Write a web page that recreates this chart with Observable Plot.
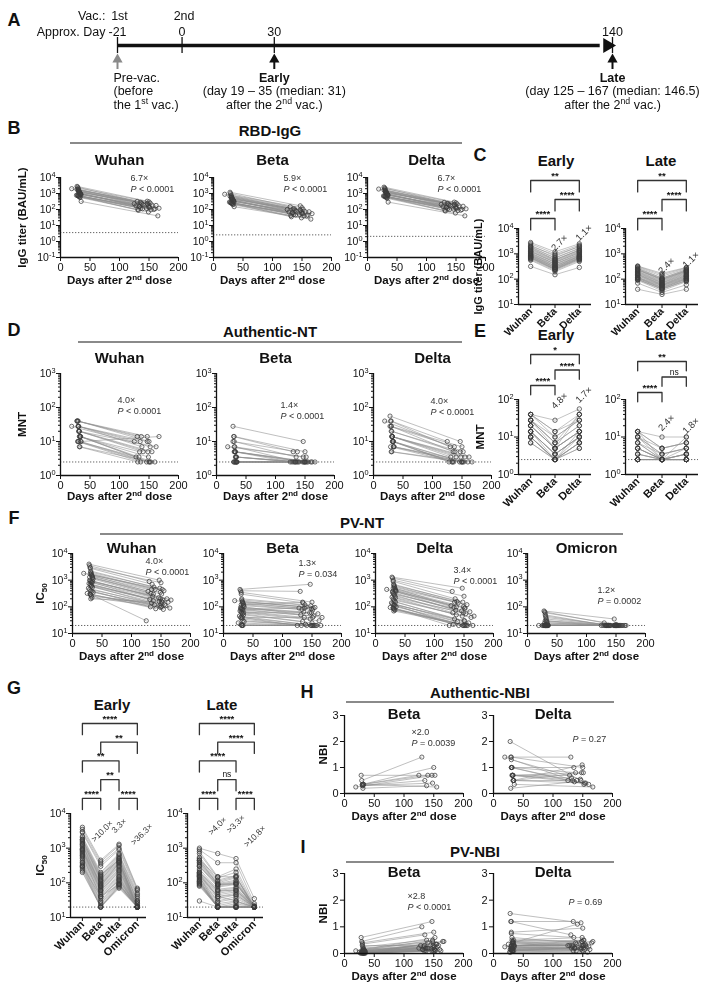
<!DOCTYPE html>
<html><head><meta charset="utf-8">
<script src="https://cdn.jsdelivr.net/npm/d3@7"></script>
<script src="https://cdn.jsdelivr.net/npm/@observablehq/plot@0.6"></script>
<style>
body{margin:0;background:#fff;}
#fig{position:relative;width:712px;height:995px;overflow:hidden;font-family:"Liberation Sans",Arial,sans-serif;color:#111;background:#fff;}
.abs{position:absolute;filter:grayscale(1);}
.letter{position:absolute;font-weight:bold;font-size:18px;transform:translate(-50%,-50%);}
.ghead{position:absolute;font-weight:bold;font-size:15px;transform:translate(-50%,-50%);white-space:nowrap;}
.gline{position:absolute;height:2px;background:#8a8a8a;}
</style></head><body><div id="fig"></div>
<script>
// ---------------- DATA ----------------
// Panel A timeline
const tlDays = [-21, 0, 30, 140];
const tlDayLabels = ["-21", "0", "30", "140"];
const vacDays = [-21, 0];
const vacLabels = ["1st", "2nd"];
const sampleDays = [-21, 30, 140];
const sampleNames = ["Pre-vac.", "Early", "Late"];
const sampleNotes = ["(before\nthe 1^{st} vac.)", "(day 19 – 35 (median: 31)\nafter the 2^{nd} vac.)", "(day 125 – 167 (median: 146.5)\nafter the 2^{nd} vac.)"];

// sampling days per subject
const earlyDay = [30,28,29,30,30,19,31,31,32,32,33,33,34,34,35,29,30,31,32,33,28,30,31,32,34,27,29,31,33,35,25,30,31,32,33,31,30,29,34,32];
const lateDay = [125,147,130,150,135,152,138,148,140,155,128,149,133,151,167,136,146,160,131,153,137,147,162,134,150,139,158,132,149,165,141,154,148,156,151,152,134,137,149,151];

// RBD-IgG (BAU/mL)
const igE_W = [1500,2800,2500,2200,1900,2000,1600,1400,1300,1200,1100,1000,950,900,850,800,750,700,650,600,1800,1700,1250,1050,880,780,720,680,560,320];
const igE_B = [550,1200,1000,800,700,900,600,520,480,450,400,380,350,330,300,290,270,250,240,220,680,580,460,400,330,290,260,240,200,150];
const igE_D = [1400,2500,2200,2000,1700,1900,1350,1250,1200,1100,1000,900,850,800,780,720,680,650,600,550,1600,1450,1100,950,800,700,650,600,500,290];
const igL_W = [230,330,320,300,280,250,230,210,200,190,170,160,150,140,120,120,115,110,100,95,260,240,180,155,135,110,100,90,70,40];
const igL_B = [100,170,150,130,110,100,90,85,80,75,70,65,60,58,55,50,48,45,42,40,110,95,72,62,55,45,40,35,30,25];
const igL_D = [210,290,280,260,240,220,200,190,180,170,150,140,130,125,110,110,105,100,90,85,230,210,160,140,120,100,90,80,60,40];

// Authentic-NT (MNT)
const mnE_W = [28,40,40,40,28,28,28,20,20,20,14,14,14,14,10,10,10,10,7,7,40,28,20,14,10];
const mnE_B = [5,28,14,14,10,7,7,5,5,5,3.5,3.5,3.5,2.5,2.5,2.5,2.5,2.5,2.5,2.5,10,7,5,3.5,2.5];
const mnE_D = [40,56,40,28,28,40,20,14,14,14,10,10,10,7,7,7,5,5,14,10,28,20,14,10,7];
const mnL_W = [10,14,14,10,10,7,7,5,5,5,3.5,3.5,3.5,2.5,14,2.5,2.5,2.5,2.5,2.5,14,10,7,5,2.5];
const mnL_B = [2.5,10,5,5,3.5,3.5,2.5,2.5,2.5,2.5,2.5,2.5,2.5,2.5,2.5,2.5,2.5,2.5,2.5,2.5,5,3.5,2.5,2.5,2.5];
const mnL_D = [10,10,7,7,5,5,5,3.5,3.5,3.5,2.5,2.5,2.5,2.5,2.5,2.5,2.5,2.5,3.5,2.5,7,5,3.5,2.5,2.5];

// PV-NT (IC50)
const pvE_W = [300,4000,3500,3000,2800,1800,2200,2000,1800,1600,1500,1400,1300,1200,1100,1000,950,900,850,800,750,700,650,600,550,500,450,400,380,350,320,300,280,250,220,200,1700,1300,900,600];
const pvE_B = [40,450,400,350,300,170,200,180,160,150,140,130,120,110,100,95,90,85,80,75,70,65,60,55,50,45,40,35,30,28,25,22,20,20,20,20,120,80,60,40];
const pvE_D = [90,1300,1200,1000,900,450,700,650,600,550,500,450,420,400,380,350,320,300,280,250,230,200,180,160,150,140,130,120,110,100,95,90,85,80,75,70,500,380,220,120];
const pvE_O = [20,70,65,60,50,20,45,40,35,30,28,25,22,20,20,20,20,20,20,20,20,20,20,20,20,20,20,20,20,20,20,20,20,20,20,20,30,25,20,20];
const pvL_W = [30,1000,900,800,700,450,550,500,450,400,380,350,320,300,180,250,220,200,190,180,170,160,150,140,130,120,110,100,95,90,85,80,110,120,100,150,450,300,200,160];
const pvL_B = [20,700,380,150,140,90,120,110,100,95,90,85,80,75,40,65,60,55,50,45,40,35,30,28,25,22,20,20,20,20,20,20,20,20,20,20,150,90,60,40];
const pvL_D = [20,500,380,250,200,90,160,150,140,120,110,100,95,90,45,75,70,65,60,55,50,45,40,35,30,28,25,22,20,20,20,20,20,20,20,20,150,100,60,30];
const pvL_O = [20,35,25,22,20,20,20,20,20,20,20,20,20,20,20,20,20,20,20,20,20,20,20,20,20,20,20,20,20,20,20,20,20,20,20,20,20,20,20,20];

// Authentic-NBI
const anE_B = [0.35,0.7,0.5,0.35,0.3,0.25,0.2,0.3,0.35,0.35];
const anL_B = [0.7,0.7,1.4,1.0,0.5,0.7,0.3,0.4,0.7,0.25];
const anE_D = [1.0,2.0,1.4,1.4,1.0,1.4,1.0,0.7,0.7,0.7,0.7,0.5,0.5,0.5,0.35,0.2,1.3,1.0,0.7,0.5];
const anL_D = [0.5,0.5,1.4,1.0,1.0,0.35,0.8,0.8,0.5,0.4,0.7,1.1,0.5,0.8,0.25,0.45,0.55,0.35,0.6,0.4];

// PV-NBI
const pnE_B = [0.05,0.6,0.45,0.4,0.35,0.1,0.25,0.2,0.18,0.15,0.12,0.1,0.1,0.08,0.07,0.06,0.05,0.05,0.04,0.04,0.03,0.03,0.02,0.02,0.02,0.01,0.01,0.01,0.01,0.01,0.05,0.08,0.12,0.15,0.06,0.03,0.3,0.1,0.05,0.02];
const pnL_B = [0.2,1.2,1.0,0.8,0.7,0.6,0.5,0.45,0.4,0.35,0.3,0.3,0.25,0.25,0.45,0.2,0.18,0.15,0.15,0.12,0.1,0.1,0.1,0.1,0.08,0.2,0.3,0.15,0.4,0.45,0.2,0.35,0.5,0.25,0.15,0.1,0.3,0.2,0.22,0.15];
const pnE_D = [0.3,1.5,1.2,0.8,0.75,0.25,0.6,0.5,0.45,0.4,0.4,0.35,0.3,0.3,0.3,0.25,0.25,0.2,0.2,0.2,0.15,0.15,0.1,0.1,0.1,0.05,0.05,0.3,0.4,0.25,0.35,0.2,0.15,0.1,0.45,0.3,1.2,0.15,0.5,0.1];
const pnL_D = [0.3,1.15,0.7,0.95,0.6,0.5,0.4,0.45,0.35,0.3,0.3,0.3,0.25,0.3,0.45,0.2,0.2,0.25,0.2,0.15,0.2,0.15,0.15,0.1,0.1,0.1,0.05,0.3,0.45,0.4,1.1,0.35,0.2,0.25,0.5,0.3,1.2,0.2,0.6,0.2];

// categories, annotations, comparisons
const cats3 = ["Wuhan", "Beta", "Delta"];
const cats4 = ["Wuhan", "Beta", "Delta", "Omicron"];
const dayTicks = [0, 50, 100, 150, 200];
const nbiTicks = [0, 1, 2, 3];
const foldC_E = ["", "2.7×", "1.1×"];
const foldC_L = ["", "2.4×", "1.1×"];
const foldE_E = ["", "4.8×", "1.7×"];
const foldE_L = ["", "2.4×", "1.8×"];
const foldG_E = ["", ">10.0×", "3.3×", ">36.3×"];
const foldG_L = ["", ">4.0×", ">3.3×", ">10.8×"];
const cmpC_E = [[["Wuhan","Delta","**"]], [["Beta","Delta","****"]], [["Wuhan","Beta","****"]]];
const cmpC_L = [[["Wuhan","Delta","**"]], [["Beta","Delta","****"]], [["Wuhan","Beta","****"]]];
const cmpE_E = [[["Wuhan","Delta","*"]], [["Beta","Delta","****"]], [["Wuhan","Beta","****"]]];
const cmpE_L = [[["Wuhan","Delta","**"]], [["Beta","Delta","ns"]], [["Wuhan","Beta","****"]]];
const cmpG_E = [[["Wuhan","Omicron","****"]], [["Beta","Omicron","**"]], [["Wuhan","Delta","**"]], [["Beta","Delta","**"]], [["Wuhan","Beta","****"],["Delta","Omicron","****"]]];
const cmpG_L = [[["Wuhan","Omicron","****"]], [["Beta","Omicron","****"]], [["Wuhan","Delta","****"]], [["Beta","Delta","ns"]], [["Wuhan","Beta","****"],["Delta","Omicron","****"]]];

// ---------------- HELPERS ----------------
const FONT = '"Liberation Sans", Arial, sans-serif';
const NARROW = '"Liberation Sans Narrow", "Arial Narrow", "Liberation Sans", Arial, sans-serif';
const SVGNS = "http://www.w3.org/2000/svg";
const fig = document.getElementById("fig");
const baseStyle = {background:"transparent", overflow:"visible", fontFamily:FONT, fontSize:"10.5px", color:"#111", maxWidth:"none"};

function richify(root){
  const els = [...root.querySelectorAll("text, tspan")].filter(e => e.children.length === 0 && /[\^_~]\{/.test(e.textContent));
  for (const el of els){
    const s = el.textContent; el.textContent = "";
    const re = /([\^_~])\{([^}]*)\}/g; let last = 0, m; const parts = [];
    while ((m = re.exec(s))){ if (m.index > last) parts.push([s.slice(last, m.index), ""]); parts.push([m[2], m[1]]); last = re.lastIndex; }
    if (last < s.length) parts.push([s.slice(last), ""]);
    let shift = 0;
    for (const [t, k] of parts){
      const ts = document.createElementNS(SVGNS, "tspan"); ts.textContent = t;
      let target = 0, own = 1;
      if (k === "^"){ target = -0.4; own = 0.7; ts.setAttribute("font-size", "70%"); }
      else if (k === "_"){ target = 0.25; own = 0.7; ts.setAttribute("font-size", "70%"); }
      else if (k === "~"){ ts.setAttribute("font-style", "italic"); }
      const d = target - shift;
      if (d) ts.setAttribute("dy", (d / own).toFixed(3) + "em");
      shift = target;
      el.appendChild(ts);
    }
  }
}
function place(node, left, top){
  richify(node);
  const d = document.createElement("div"); d.className = "abs";
  d.style.left = left + "px"; d.style.top = top + "px";
  d.appendChild(node); fig.appendChild(d);
}
function html(cls, text, x, y){
  const d = document.createElement("div"); d.className = cls;
  d.style.left = x + "px"; d.style.top = y + "px"; d.innerHTML = text; fig.appendChild(d);
}
function hline(x1, x2, y){
  const d = document.createElement("div"); d.className = "gline";
  d.style.left = x1 + "px"; d.style.width = (x2 - x1) + "px"; d.style.top = (y - 1) + "px"; fig.appendChild(d);
}
function logTicks(lo, hi){
  const maj = [], min = [];
  for (let e = Math.round(Math.log10(lo)); e <= Math.round(Math.log10(hi)); e++){
    maj.push(Math.pow(10, e));
    if (Math.pow(10, e) < hi) for (let k = 2; k < 10; k++) min.push(k * Math.pow(10, e));
  }
  return {maj, min};
}
const fmtPow = d => "10^{" + Math.round(Math.log10(d)) + "}";

function yAxisMarks(o){
  if (o.log === false) return [Plot.axisY({ticks:o.yTicks, tickSize:4, tickPadding:2, tickFormat:d => String(d), fontSize:11, label:null})];
  const t = logTicks(o.yDomain[0], o.yDomain[1]);
  return [
    Plot.axisY({ticks:t.maj, tickSize:4, tickPadding:1, tickFormat:fmtPow, fontSize:10.5, label:null}),
    Plot.axisY({ticks:t.min, tickSize:2, tickFormat:() => "", label:null})
  ];
}

const ML = 62, MT = 40, MR = 34, MB = 40;
function timeCourse(o){
  const rows = [];
  o.early.forEach((v, i) => { rows.push({id:i, day:earlyDay[i], v}); rows.push({id:i, day:lateDay[i], v:o.late[i]}); });
  const marks = [];
  if (o.lod) marks.push(Plot.ruleY([o.lod], {stroke:"#666", strokeWidth:1, strokeDasharray:"1.3,1.7"}));
  marks.push(Plot.line(rows, {x:"day", y:"v", z:"id", stroke:"#8c8c8c", strokeWidth:0.75, strokeOpacity:0.75}));
  marks.push(Plot.dot(rows, {x:"day", y:"v", r:2.1, stroke:"#3c3c3c", strokeWidth:0.75, fill:"none"}));
  marks.push(Plot.ruleX([0], {stroke:"#111", strokeWidth:1.3}));
  marks.push(Plot.ruleY([o.yDomain[0]], {stroke:"#111", strokeWidth:1.3}));
  marks.push(Plot.axisX({ticks:dayTicks, tickSize:4, tickPadding:2, fontSize:11, label:null}));
  marks.push(...yAxisMarks(o));
  marks.push(Plot.text([o.title], {frameAnchor:"top", lineAnchor:"middle", dy:o.titleDy, fontWeight:"bold", fontSize:15}));
  marks.push(Plot.text(["Days after 2^{nd} dose"], {frameAnchor:"bottom", lineAnchor:"middle", dy:o.xlabDy ?? 23, fontWeight:"bold", fontSize:11.5}));
  if (o.ylabel) marks.push(Plot.text([o.ylabel], {frameAnchor:"left", textAnchor:"middle", lineAnchor:"middle", rotate:-90, dx:o.ylabelDx, fontWeight:"bold", fontSize:11.5}));
  if (o.annot) marks.push(Plot.text([o.annot], {frameAnchor:"top-left", textAnchor:"start", lineAnchor:"top", dx:o.adx, dy:o.ady, fontSize:9, fill:"#333", lineHeight:1.2}));
  const p = Plot.plot({
    width:o.fw + ML + MR, height:o.fh + MT + MB, marginLeft:ML, marginTop:MT, marginRight:MR, marginBottom:MB,
    style:baseStyle,
    x:{domain:[0, 200]},
    y:o.log === false ? {domain:o.yDomain} : {type:"log", domain:o.yDomain},
    marks
  });
  place(p, o.fx - ML, o.fy - MT);
}

const CML = 60, CMT = 10, CMR = 40, CMB = 70;
function catPlot(o){
  const rows = [];
  o.series[0].forEach((_, i) => o.series.forEach((s, j) => rows.push({id:i, j, v:s[i]})));
  const marks = [];
  if (o.lod) marks.push(Plot.ruleY([o.lod], {stroke:"#666", strokeWidth:1, strokeDasharray:"1.3,1.7"}));
  marks.push(Plot.line(rows, {x:"j", y:"v", z:"id", stroke:"#8c8c8c", strokeWidth:0.75, strokeOpacity:0.7}));
  marks.push(Plot.dot(rows, {x:"j", y:"v", r:2.2, stroke:"#3c3c3c", strokeWidth:0.75, fill:"none"}));
  marks.push(Plot.ruleX([o.xDomain[0]], {stroke:"#111", strokeWidth:1.3}));
  marks.push(Plot.ruleY([o.yDomain[0]], {stroke:"#111", strokeWidth:1.3}));
  marks.push(Plot.axisX({ticks:o.cats.map((c, i) => i), tickFormat:i => o.cats[i], tickRotate:-45, tickSize:4, tickPadding:1, fontSize:o.catFont ?? 11, fontWeight:"bold", label:null}));
  marks.push(...yAxisMarks(o));
  o.folds.forEach((t, j) => { if (t) marks.push(Plot.text([t], {x:j, frameAnchor:"top", dy:o.foldDy[j], dx:o.foldDx ? o.foldDx[j] : 0, rotate:-45, textAnchor:"start", lineAnchor:"bottom", fontSize:o.foldFont ?? 9.5, fill:"#333"})); });
  if (o.ylabel) marks.push(Plot.text([o.ylabel], {frameAnchor:"left", textAnchor:"middle", lineAnchor:"middle", rotate:-90, dx:o.ylabelDx, fontWeight:"bold", fontSize:o.ylabFont ?? 11.5}));
  const p = Plot.plot({
    width:o.fw + CML + CMR, height:o.fh + CMT + CMB, marginLeft:CML, marginTop:CMT, marginRight:CMR, marginBottom:CMB,
    style:baseStyle,
    x:{domain:o.xDomain},
    y:{type:"log", domain:o.yDomain},
    marks
  });
  place(p, o.fx - CML, o.fy - CMT);
}

function bracketPlot(o){
  const n = o.rows.length, BL = 10;
  const top = o.bottom - (n - 1) * o.spacing - 16;
  const h = o.bottom + o.spacing * 0.8 - top;
  const idx = c => o.cats.indexOf(c);
  const segs = [], labs = [];
  o.rows.forEach((row, r) => {
    const lvl = n - 1 - r;
    row.forEach(([a, b, t], k) => {
      const key = r + "-" + k, ia = idx(a), ib = idx(b);
      segs.push({key, x:ia, y:lvl - 0.6}, {key, x:ia, y:lvl}, {key, x:ib, y:lvl}, {key, x:ib, y:lvl - 0.6});
      labs.push({x:(ia + ib) / 2, y:lvl, t});
    });
  });
  const p = Plot.plot({
    width:o.fw + 2 * BL, height:h, marginLeft:BL, marginRight:BL, marginTop:0, marginBottom:0,
    style:baseStyle,
    x:{domain:o.xDomain, range:[BL, BL + o.fw], axis:null},
    y:{domain:[0, n - 1], range:[o.bottom - top, o.bottom - top - (n - 1) * o.spacing], axis:null},
    marks:[
      Plot.line(segs, {x:"x", y:"y", z:"key", stroke:"#333", strokeWidth:1.3}),
      Plot.text(labs.filter(d => d.t !== "ns"), {x:"x", y:"y", text:"t", dy:-4.5, fontSize:9.5, fontWeight:"bold"}),
      Plot.text(labs.filter(d => d.t === "ns"), {x:"x", y:"y", text:"t", dy:-5, fontSize:8.5})
    ]
  });
  place(p, o.fx - BL, top);
}

// ---------------- PANEL A ----------------
(function(){
  const p = Plot.plot({
    width:712, height:112, margin:0, style:{...baseStyle, fontFamily:NARROW, fontSize:"12.5px"},
    x:{domain:[-21, 140], range:[117, 612], axis:null},
    y:{domain:[0, 112], range:[0, 112], axis:null},
    marks:[
      Plot.ruleY([45], {x1:-21, x2:136, stroke:"#111", strokeWidth:3.6}),
      Plot.dot([140], {x:d => d, y:45, dx:-5, symbol:"triangle", rotate:90, r:5.5, fill:"#111", stroke:"none"}),
      Plot.ruleX(tlDays, {x:d => d, y1:37, y2:53, stroke:"#111", strokeWidth:1.3}),
      Plot.ruleX(sampleDays.slice(0, 1), {x:d => d, y1:59, y2:69, stroke:"#8a8a8a", strokeWidth:2}),
      Plot.dot(sampleDays.slice(0, 1), {x:d => d, y:59, symbol:"triangle", r:3.8, fill:"#8a8a8a", stroke:"none"}),
      Plot.ruleX(sampleDays.slice(1), {x:d => d, y1:59, y2:69, stroke:"#111", strokeWidth:2}),
      Plot.dot(sampleDays.slice(1), {x:d => d, y:59, symbol:"triangle", r:3.8, fill:"#111", stroke:"none"}),
      Plot.text(["Vac.:"], {x:-21, y:15, dx:-12, textAnchor:"end"}),
      Plot.text(vacLabels, {x:(d, i) => vacDays[i], y:15, dx:2}),
      Plot.text(["Approx. Day"], {x:-21, y:31, dx:-12, textAnchor:"end"}),
      Plot.text(tlDayLabels, {x:(d, i) => tlDays[i], y:31}),
      Plot.text(sampleNames.slice(0, 1), {x:sampleDays[0], y:77, dx:-4, textAnchor:"start"}),
      Plot.text(sampleNotes.slice(0, 1), {x:sampleDays[0], y:84, dx:-4, textAnchor:"start", lineAnchor:"top", lineHeight:1.15}),
      Plot.text(sampleNames.slice(1), {x:(d, i) => sampleDays[i + 1], y:77, fontWeight:"bold"}),
      Plot.text(sampleNotes.slice(1), {x:(d, i) => sampleDays[i + 1], y:84, lineAnchor:"top", lineHeight:1.15})
    ]
  });
  place(p, 0, 0);
})();

// ---------------- PANEL LETTERS & HEADERS ----------------
html("letter", "A", 14, 20);
html("letter", "B", 14, 128);
html("letter", "C", 480, 155);
html("letter", "D", 14, 330);
html("letter", "E", 480, 331);
html("letter", "F", 14, 518);
html("letter", "G", 14, 688);
html("letter", "H", 307, 692);
html("letter", "I", 303, 847);

html("ghead", "RBD-IgG", 270, 130); hline(70, 462, 143);
html("ghead", "Authentic-NT", 270, 331); hline(78, 462, 342);
html("ghead", "PV-NT", 362, 522); hline(100, 623, 534);
html("ghead", "Authentic-NBI", 480, 692); hline(346, 614, 702);
html("ghead", "PV-NBI", 475, 851); hline(346, 614, 862);

html("ghead", "Early", 556, 160); html("ghead", "Late", 661, 160);
html("ghead", "Early", 556, 334); html("ghead", "Late", 661, 334);
html("ghead", "Early", 112, 704); html("ghead", "Late", 222, 704);

// ---------------- PANEL B ----------------
const B = {fy:177, fh:80, fw:118, yDomain:[0.1, 1e4], titleDy:-17};
timeCourse({...B, fx:60, early:igE_W, late:igL_W, lod:3.6, title:"Wuhan", ylabel:"IgG titer (BAU/mL)", ylabelDx:-38, annot:"6.7×\n~{P} < 0.0001", adx:70, ady:-4});
timeCourse({...B, fx:213, early:igE_B, late:igL_B, lod:2.6, title:"Beta", annot:"5.9×\n~{P} < 0.0001", adx:70, ady:-4});
timeCourse({...B, fx:367, early:igE_D, late:igL_D, lod:2.1, title:"Delta", annot:"6.7×\n~{P} < 0.0001", adx:70, ady:-4});

// ---------------- PANEL C ----------------
const C = {fy:228, fh:76, fw:73, xDomain:[-0.5, 2.5], yDomain:[10, 1e4], cats:cats3, catFont:10.5};
catPlot({...C, fx:518, series:[igE_W, igE_B, igE_D], folds:foldC_E, foldDy:[0, 23, 13], ylabel:"IgG titer (BAU/mL)", ylabelDx:-40, ylabFont:11});
catPlot({...C, fx:625, series:[igL_W, igL_B, igL_D], folds:foldC_L, foldDy:[0, 46, 40]});
bracketPlot({fx:518, fw:73, xDomain:C.xDomain, cats:cats3, rows:cmpC_E, bottom:218, spacing:19});
bracketPlot({fx:625, fw:73, xDomain:C.xDomain, cats:cats3, rows:cmpC_L, bottom:218, spacing:19});

// ---------------- PANEL D ----------------
const D = {fy:373, fh:102, fw:118, yDomain:[1, 1000], titleDy:-15, lod:2.5, xlabDy:21};
timeCourse({...D, fx:60, early:mnE_W, late:mnL_W, title:"Wuhan", ylabel:"MNT", ylabelDx:-38, annot:"4.0×\n~{P} < 0.0001", adx:57, ady:22});
timeCourse({...D, fx:216, early:mnE_B, late:mnL_B, title:"Beta", annot:"1.4×\n~{P} < 0.0001", adx:64, ady:27});
timeCourse({...D, fx:373, early:mnE_D, late:mnL_D, title:"Delta", annot:"4.0×\n~{P} < 0.0001", adx:57, ady:23});

// ---------------- PANEL E ----------------
const E = {fy:399, fh:75, fw:73, xDomain:[-0.5, 2.5], yDomain:[1, 100], cats:cats3, lod:2.5};
catPlot({...E, fx:518, series:[mnE_W, mnE_B, mnE_D], folds:foldE_E, foldDy:[0, 10, 4], ylabel:"MNT", ylabelDx:-38});
catPlot({...E, fx:625, series:[mnL_W, mnL_B, mnL_D], folds:foldE_L, foldDy:[0, 32, 35]});
bracketPlot({fx:518, fw:73, xDomain:E.xDomain, cats:cats3, rows:cmpE_E, bottom:385, spacing:15.5});
bracketPlot({fx:625, fw:73, xDomain:E.xDomain, cats:cats3, rows:cmpE_L, bottom:392, spacing:15.5});

// ---------------- PANEL F ----------------
const F = {fy:553, fh:80, fw:118, yDomain:[10, 1e4], titleDy:-5, lod:20};
timeCourse({...F, fx:72, early:pvE_W, late:pvL_W, title:"Wuhan", ylabel:"IC_{50}", ylabelDx:-32, annot:"4.0×\n~{P} < 0.0001", adx:73, ady:3});
timeCourse({...F, fx:223, early:pvE_B, late:pvL_B, title:"Beta", annot:"1.3×\n~{P} = 0.034", adx:75, ady:5});
timeCourse({...F, fx:375, early:pvE_D, late:pvL_D, title:"Delta", annot:"3.4×\n~{P} < 0.0001", adx:78, ady:12});
timeCourse({...F, fx:527, early:pvE_O, late:pvL_O, title:"Omicron", annot:"1.2×\n~{P} = 0.0002", adx:70, ady:32});

// ---------------- PANEL G ----------------
const G = {fy:813, fh:104, fw:76, xDomain:[-0.65, 3.5], yDomain:[10, 1e4], cats:cats4, lod:20, foldFont:8.5};
catPlot({...G, fx:70, series:[pvE_W, pvE_B, pvE_D, pvE_O], folds:foldG_E, foldDy:[0, 29, 20, 32], foldDx:[0, -6, -4, -3], ylabel:"IC_{50}", ylabelDx:-30});
catPlot({...G, fx:187, series:[pvL_W, pvL_B, pvL_D, pvL_O], folds:foldG_L, foldDy:[0, 22, 20, 34], foldDx:[0, -6, -6, -7]});
bracketPlot({fx:70, fw:76, xDomain:G.xDomain, cats:cats4, rows:cmpG_E, bottom:798, spacing:18.7});
bracketPlot({fx:187, fw:76, xDomain:G.xDomain, cats:cats4, rows:cmpG_L, bottom:798, spacing:18.7});

// ---------------- PANEL H ----------------
const H = {fy:715, fh:78, fw:119, yDomain:[0, 3], yTicks:nbiTicks, log:false, titleDy:-1};
timeCourse({...H, fx:344, early:anE_B, late:anL_B, title:"Beta", ylabel:"NBI", ylabelDx:-21, annot:"×2.0\n~{P} = 0.0039", adx:67, ady:12});
timeCourse({...H, fx:493, early:anE_D, late:anL_D, title:"Delta", annot:"~{P} = 0.27", adx:79, ady:19});

// ---------------- PANEL I ----------------
const I = {fy:873, fh:80, fw:119, yDomain:[0, 3], yTicks:nbiTicks, log:false, titleDy:-1};
timeCourse({...I, fx:344, early:pnE_B, late:pnL_B, title:"Beta", ylabel:"NBI", ylabelDx:-21, annot:"×2.8\n~{P} < 0.0001", adx:63, ady:18});
timeCourse({...I, fx:493, early:pnE_D, late:pnL_D, title:"Delta", annot:"~{P} = 0.69", adx:75, ady:24});
</script></body></html>
